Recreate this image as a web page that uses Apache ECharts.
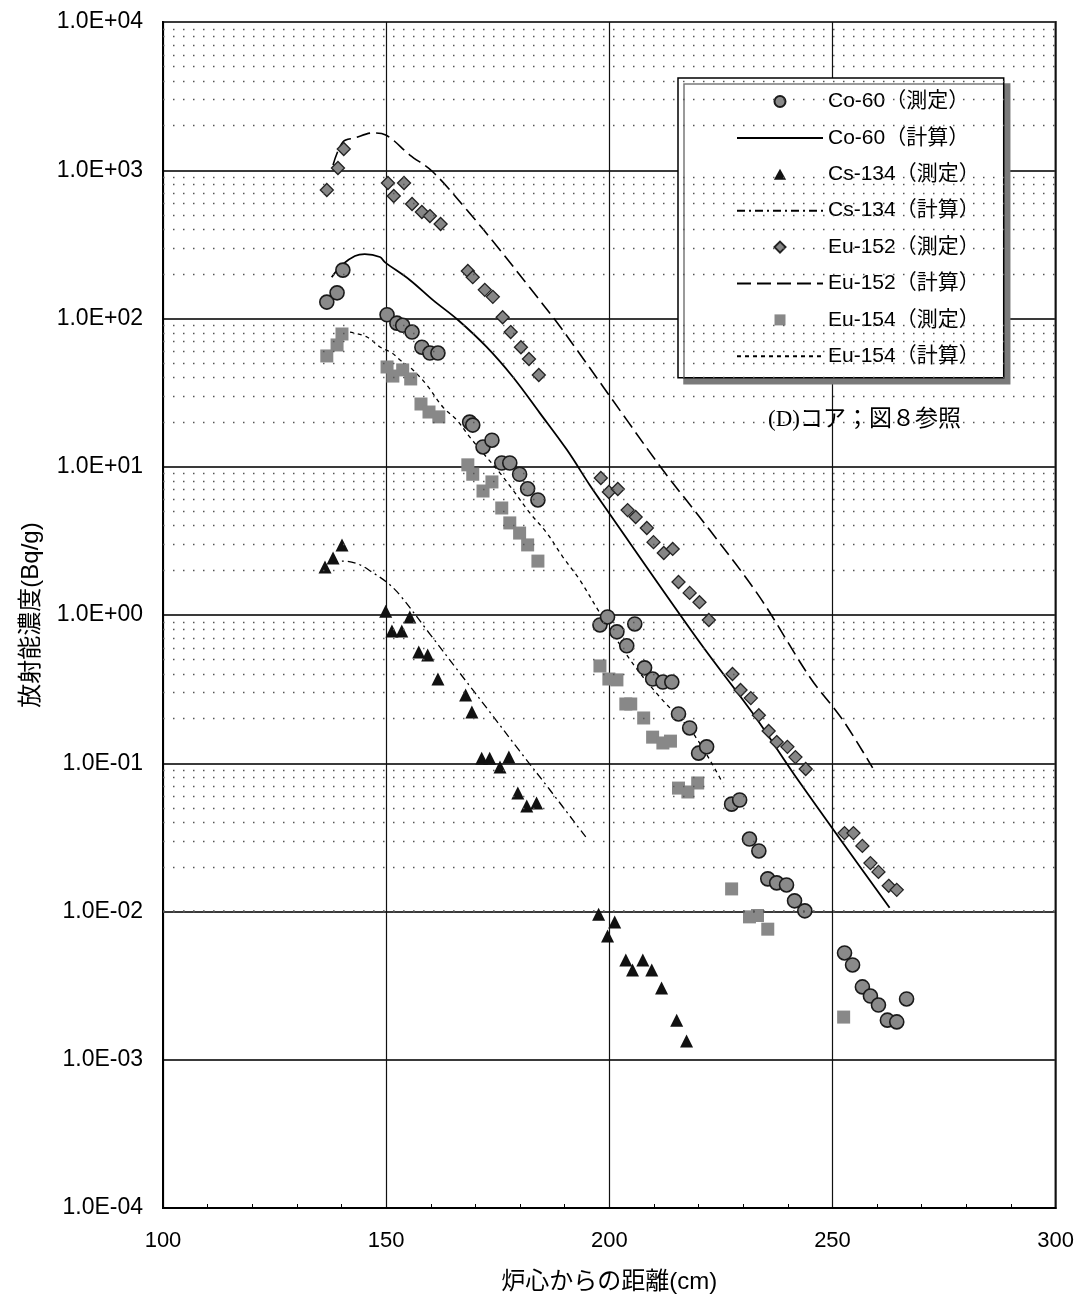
<!DOCTYPE html>
<html><head><meta charset="utf-8">
<script src="https://cdn.jsdelivr.net/npm/echarts@6/dist/echarts.min.js"></script>
<style>html,body{margin:0;padding:0;background:#fff}#c{width:1077px;height:1301px}</style>
</head><body><div id="c"></div>
<script>
// ---- Measured data (distance cm, activity Bq/g) ----
const co60MeasX = [136.7,139.0,140.3,150.2,152.4,153.7,155.8,158.0,159.8,161.6,168.7,169.4,171.7,173.7,175.9,177.7,179.9,181.7,184.0,197.9,199.6,201.7,203.9,205.7,207.9,209.7,212.0,214.0,215.5,218.0,220.0,221.8,227.4,229.2,231.4,233.5,235.5,237.5,239.7,241.5,243.8,252.7,254.5,256.7,258.5,260.3,262.3,264.4,266.6];
const co60MeasY = [129,149,212,106,93,90,81,64,58.5,58.5,20,19.1,13.6,15.1,10.6,10.6,8.9,7.1,5.97,0.857,0.97,0.77,0.62,0.87,0.44,0.37,0.353,0.353,0.215,0.173,0.117,0.129,0.053,0.0565,0.0308,0.0256,0.0166,0.0156,0.0151,0.0118,0.0101,0.00525,0.00436,0.0031,0.00269,0.00234,0.00185,0.0018,0.00257];

const cs134MeasX = [136.3,138.1,140.1,149.9,151.3,153.5,155.3,157.3,159.3,161.6,167.8,169.2,171.4,173.2,175.5,177.5,179.5,181.5,183.7,197.6,199.6,201.2,203.7,205.2,207.5,209.5,211.7,215.1,217.3];
const cs134MeasY = [2.11,2.42,2.97,1.06,0.78,0.78,0.97,0.563,0.537,0.37,0.289,0.222,0.108,0.108,0.0944,0.110,0.063,0.0515,0.054,0.0096,0.00684,0.0085,0.0047,0.00403,0.0047,0.00403,0.00305,0.00185,0.00134];

const eu152MeasX = [136.7,139.2,140.5,150.4,151.7,154.0,155.8,158.0,159.8,162.2,168.3,169.4,172.1,173.9,176.1,177.9,180.2,182.0,184.2,198.1,199.9,201.9,204.1,205.9,208.4,209.9,212.2,214.2,215.5,218.0,220.2,222.3,227.6,229.4,231.7,233.5,235.7,237.5,239.9,241.7,244.0,252.7,254.7,256.7,258.5,260.3,262.6,264.4];
const eu152MeasY = [736,1036,1391,820,670,820,592,523,491,434,209,190,156,140,102,81,64,53.3,41.6,8.4,6.76,7.08,5.1,4.58,3.86,3.1,2.62,2.79,1.67,1.41,1.22,0.925,0.40,0.312,0.275,0.211,0.165,0.139,0.129,0.110,0.0915,0.0338,0.0338,0.0277,0.0212,0.0185,0.0149,0.014];

const eu154MeasX = [136.7,139.0,140.1,150.2,151.5,153.7,155.5,157.8,159.6,161.8,168.3,169.4,171.7,173.7,175.9,177.7,179.9,181.7,184.0,197.9,199.9,201.7,203.7,204.8,207.7,209.7,212.0,213.7,215.5,217.6,219.8,227.4,231.4,233.2,235.5,252.5];
const eu154MeasY = [55.9,66.3,78.6,47.1,40.9,45,39.1,26.5,23.4,21.7,10.3,8.9,6.86,7.9,5.27,4.18,3.57,2.97,2.31,0.453,0.37,0.365,0.251,0.251,0.202,0.150,0.137,0.141,0.068,0.064,0.0736,0.0142,0.0092,0.0094,0.0076,0.00194];

// ---- Calculated curves ----
const co60CalcX = [137.8,140.1,143.0,145.2,148.6,149.7,155.3,160.5,166.1,172.5,178.4,184.4,190.5,195.6,197.9,220.2,232.1,242.6,262.8];
const co60CalcY = [190,230,264,272,260,240,182,133,97.7,64.3,40.3,23.1,13.0,7.53,5.97,0.657,0.218,0.0747,0.0106];

const cs134CalcX = [137.4,140.3,143.7,146.8,150.4,153.1,159.8,166.5,173.2,179.9,186.7,194.9];
const cs134CalcY = [2.24,2.31,2.21,1.95,1.64,1.36,0.744,0.406,0.222,0.121,0.066,0.0313];

const eu152CalcX = [138.1,140.3,143.0,147.0,149.9,155.3,160.5,168.1,175.5,182.2,188.2,193.4,203.9,212.0,222.5,233.7,244.9,252.3,259.0];
const eu152CalcY = [1085,1552,1651,1784,1729,1267,973,539,290,161,94.7,57.6,20.7,9.5,3.74,1.32,0.382,0.196,0.093];

const eu154CalcX = [141.9,145.7,148.6,151.3,153.1,156.0,159.1,162.7,165.8,168.7,172.5,175.5,178.4,182.2,186.0,189.6,193.4,197.9,205.0,211.3,218.7,225.4];
const eu154CalcY = [81,75,64.3,58.5,52.5,45,35.6,25.3,20.7,15.9,11.6,9.07,6.97,4.88,3.57,2.46,1.72,1.03,0.482,0.28,0.16,0.0736];

// ---- Labels ----
const seriesNames = ['Co-60（測定）','Co-60（計算）','Cs-134（測定）','Cs-134（計算）','Eu-152（測定）','Eu-152（計算）','Eu-154（測定）','Eu-154（計算）'];
const xTickLabels = ['100','150','200','250','300'];
const yTickLabels = ['1.0E-04','1.0E-03','1.0E-02','1.0E-01','1.0E+00','1.0E+01','1.0E+02','1.0E+03','1.0E+04'];
const xAxisTitle = '炉心からの距離(cm)';
const yAxisTitle = '放射能濃度(Bq/g)';
const noteText = '(D)コア；図８参照';
const minorGridMultipliers = [2,3,4,5,6,7,8,9];
const decadeExponents = [-4,-3,-2,-1,0,1,2,3];

const FONT = '"Liberation Sans","Noto Sans CJK JP",sans-serif';
const pair = (xs, ys) => xs.map((x, i) => [x, ys[i]]);
const minorLines = [];
decadeExponents.forEach(e => minorGridMultipliers.forEach(m => minorLines.push({ yAxis: m * Math.pow(10, e) })));

const chart = echarts.init(document.getElementById('c'), null, { renderer: 'canvas' });

const scatter = (name, xs, ys, symbol, size, itemStyle) => ({
  name, type: 'scatter', data: pair(xs, ys), symbol, symbolSize: size, itemStyle, z: 4
});
const curve = (name, xs, ys, type, width) => ({
  name, type: 'line', data: pair(xs, ys), symbol: 'none', showSymbol: false, smooth: 0.35,
  lineStyle: { color: '#000', width, type }, itemStyle: { color: '#000' }, z: 3
});
const hiddenMark = { color: 'rgba(0,0,0,0)', borderColor: 'rgba(0,0,0,0)', borderWidth: 0, opacity: 0 };

chart.setOption({
  animation: false,
  backgroundColor: '#fff',
  grid: { left: 163, right: 21, top: 22, bottom: 93, show: true, borderColor: '#000', borderWidth: 2, backgroundColor: '#fff' },
  xAxis: {
    type: 'value', min: 100, max: 300, interval: 50,
    name: xAxisTitle, nameLocation: 'middle', nameGap: 62,
    nameTextStyle: { fontFamily: FONT, fontSize: 24, color: '#000' },
    axisLine: { show: true, lineStyle: { color: '#000', width: 2 } },
    axisTick: { show: false, inside: true },
    minorTick: { show: true, splitNumber: 5, length: 4, lineStyle: { color: '#000', width: 1 } },
    axisLabel: { fontFamily: FONT, fontSize: 22, color: '#000', margin: 22,
      formatter: v => xTickLabels[Math.round((v - 100) / 50)] },
    splitLine: { show: true, lineStyle: { color: '#111', width: 1.2 } }
  },
  yAxis: {
    type: 'log', logBase: 10, min: 1e-4, max: 1e4,
    name: yAxisTitle, nameLocation: 'middle', nameGap: 120, nameRotate: 90,
    nameTextStyle: { fontFamily: FONT, fontSize: 24, color: '#000' },
    axisLine: { show: true, lineStyle: { color: '#000', width: 2 } },
    axisTick: { show: false },
    axisLabel: { fontFamily: FONT, fontSize: 23, color: '#000', margin: 20,
      formatter: v => yTickLabels[Math.round(Math.log10(v)) + 4] },
    splitLine: { show: true, lineStyle: { color: '#3a3a3a', width: 1.8 } }
  },
  legend: {
    data: [
      { name: seriesNames[0], icon: 'circle' },
      { name: seriesNames[1], itemStyle: hiddenMark },
      { name: seriesNames[2], icon: 'path://M5,0L10,9L0,9Z' },
      { name: seriesNames[3], itemStyle: hiddenMark },
      { name: seriesNames[4], icon: 'path://M5,0L10,5L5,10L0,5Z' },
      { name: seriesNames[5], itemStyle: hiddenMark },
      { name: seriesNames[6], icon: 'path://M0,0L10,0L10,10L0,10Z' },
      { name: seriesNames[7], itemStyle: hiddenMark }
    ],
    symbolKeepAspect: true,
    orient: 'vertical', left: 678, top: 78,
    itemWidth: 86, itemHeight: 11, itemGap: 15.4, itemTextGap: 6,
    padding: [13, 24, 11, 58],
    backgroundColor: '#fff', borderColor: '#000', borderWidth: 1.5,
    shadowColor: '#7a7a7a', shadowOffsetX: 6, shadowOffsetY: 6, shadowBlur: 0,
    textStyle: { fontFamily: FONT, fontSize: 21, color: '#000', lineHeight: 20 }
  },
  graphic: [{
    type: 'text', left: 768, top: 408, z: 10,
    style: { text: noteText, font: '23px "Liberation Serif","Noto Sans CJK JP",serif', fill: '#000' }
  }],
  series: [
    { name: 'minorGrid', type: 'scatter', data: [], silent: true, z: 1,
      markLine: { silent: true, symbol: 'none', label: { show: false }, animation: false,
        lineStyle: { type: [1.5, 8.5], color: '#555', width: 1.4 }, data: minorLines } },
    scatter(seriesNames[0], co60MeasX, co60MeasY, 'circle', 14, { color: '#8a8a8a', borderColor: '#1a1a1a', borderWidth: 1.6, opacity: 1 }),
    curve(seriesNames[1], co60CalcX, co60CalcY, 'solid', 1.8),
    scatter(seriesNames[2], cs134MeasX, cs134MeasY, 'triangle', 13, { color: '#111', opacity: 1 }),
    curve(seriesNames[3], cs134CalcX, cs134CalcY, [8, 4, 2, 4], 1.3),
    scatter(seriesNames[4], eu152MeasX, eu152MeasY, 'diamond', 13, { color: '#868686', borderColor: '#222', borderWidth: 1.3, opacity: 1 }),
    curve(seriesNames[5], eu152CalcX, eu152CalcY, [14, 6], 1.6),
    scatter(seriesNames[6], eu154MeasX, eu154MeasY, 'rect', 13, { color: '#888', opacity: 1 }),
    curve(seriesNames[7], eu154CalcX, eu154CalcY, [4, 4], 1.3)
  ]
});
</script></body></html>
